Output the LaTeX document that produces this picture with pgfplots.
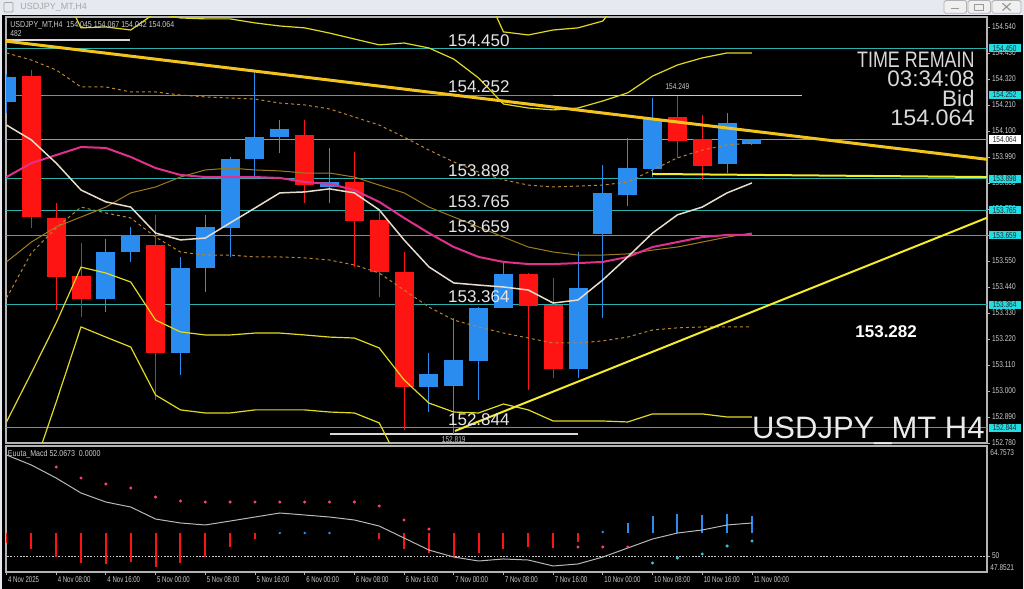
\documentclass[border=0pt]{standalone}
\usepackage{fontspec}
\setmainfont{Liberation Sans}
\usepackage{graphicx}
\usepackage{pgfplots}
\pgfplotsset{compat=1.18}

\definecolor{chrome}{HTML}{E6EAF0}
\definecolor{bull}{HTML}{2B8CF0}
\definecolor{bear}{HTML}{FF1414}
\definecolor{lvl}{HTML}{2BB0B0}
\definecolor{lvllight}{HTML}{8FE3E3}
\definecolor{gold}{HTML}{F2C31C}
\definecolor{yel}{HTML}{F4EC2A}
\definecolor{band}{HTML}{E0DA22}
\definecolor{pinkma}{HTML}{E0308E}
\definecolor{whitema}{HTML}{E8DCCB}
\definecolor{olivema}{HTML}{A07C1E}
\definecolor{dashc}{HTML}{B8862E}
\definecolor{axgray}{HTML}{B4B4B4}
\definecolor{txtgray}{HTML}{CCCCCC}
\definecolor{cyanbox}{HTML}{22DDE4}
\definecolor{macdline}{HTML}{B8B8B8}
\definecolor{pinkdot}{HTML}{FF4070}
\definecolor{cyandot}{HTML}{30C8D8}

\newcommand{\sm}[1]{\scalebox{0.78}[1]{#1}}
\newcommand{\tl}[1]{\scalebox{0.72}[1]{#1}}
\newcommand{\tk}{\fontsize{4.2}{5}\selectfont}

\begin{document}
\begin{tikzpicture}
% window frame
\fill[chrome] (0,0) rectangle (512pt,-294.5pt);
\fill[black] (1pt,-7.5pt) rectangle (511.5pt,-294.5pt);
\draw[gray!70, line width=0.4pt, rounded corners=0.5pt] (2pt,-1.2pt) rectangle (6.5pt,-6pt);
\node[anchor=west, inner sep=0, text=gray!70, font=\fontsize{4.5}{5}\selectfont] at (10pt,-3.6pt) {USDJPY\_MT,H4};
\foreach \a/\b in {472/483.2, 484/495.2, 496/510.5}{
  \draw[gray!60, fill=gray!12, rounded corners=0.8pt] (\a pt,-0.3pt) rectangle (\b pt,-6.6pt);}
\draw[gray!80, line width=0.6pt] (475.5pt,-4.4pt) -- (479.7pt,-4.4pt);
\draw[gray!80, line width=0.5pt] (487.4pt,-2pt) rectangle (491.8pt,-5pt);
\draw[gray!80, line width=0.6pt] (501.2pt,-1.6pt) -- (505.3pt,-5.3pt) (501.2pt,-5.3pt) -- (505.3pt,-1.6pt);

% ---------------- main price panel ----------------
\begin{axis}[
  at={(3pt,-8.5pt)}, anchor=north west,
  scale only axis, width=490.5pt, height=213pt,
  xmin=-0.02, xmax=39.46, ymin=152.780, ymax=154.582,
  axis background/.style={fill=black},
  axis line style={axgray, line width=0.6pt},
  clip mode=individual, unbounded coords=jump,
  scaled y ticks=false,
  xtick=\empty,
  ytick={152.78,152.89,153.00,153.11,153.22,153.33,153.44,153.55,153.66,153.77,153.88,153.99,154.10,154.21,154.32,154.43,154.54},
  ytick pos=right, yticklabel pos=right,
  tick align=outside, major tick length=1.5pt,
  tick style={axgray, line width=0.4pt},
  yticklabel style={font=\tk, text=txtgray, inner sep=0.8pt},
  yticklabel={\sm{\pgfmathprintnumber[fixed,fixed zerofill,precision=3,assume math mode=true]{\tick}}},
]
% horizontal levels
\addplot[lvl, line width=0.5pt] coordinates {(-1,154.450)(40,154.450)};
\addplot[lvl, line width=0.5pt] coordinates {(-1,154.252)(32.0,154.252)};
\addplot[lvllight, line width=0.5pt] coordinates {(22.0,154.252)(32.0,154.252)};
\addplot[gray!80, line width=0.5pt] coordinates {(-1,154.064)(40,154.064)};
\addplot[lvl, line width=0.5pt] coordinates {(-1,153.898)(40,153.898)};
\addplot[lvl, line width=0.5pt] coordinates {(-1,153.765)(40,153.765)};
\addplot[lvl, line width=0.5pt] coordinates {(-1,153.659)(40,153.659)};
\addplot[lvl, line width=0.5pt] coordinates {(-1,153.364)(40,153.364)};
\addplot[lvl, line width=0.5pt] coordinates {(-1,152.844)(40,152.844)};
\addplot[white!85!black, line width=0.8pt] coordinates {(0,154.485)(4.97,154.485)};
\addplot[white!85!black, line width=0.8pt] coordinates {(13.02,152.819)(23.0,152.819)};

% candle wicks
\addplot[bear, line width=0.5pt] coordinates {
(1,153.690)(1,154.358)(1,nan) (2,153.343)(2,153.795)(2,nan) (3,153.313)(3,153.626)(3,nan)
(6,152.962)(6,153.745)(6,nan) (12,153.795)(12,154.146)(12,nan) (14,153.525)(14,154.011)(14,nan)
(15,153.398)(15,153.757)(15,nan) (16,152.835)(16,153.588)(16,nan) (21,153.004)(21,153.499)(21,nan)
(22,153.055)(22,153.478)(22,nan) (27,153.986)(27,154.249)(27,nan) (28,153.893)(28,154.168)(28,nan)};
\addplot[bull, line width=0.5pt] coordinates {
(0,154.176)(0,154.341)(0,nan) (4,153.334)(4,153.643)(4,nan) (5,153.546)(5,153.694)(5,nan)
(7,153.068)(7,153.567)(7,nan) (8,153.419)(8,153.745)(8,nan) (9,153.567)(9,153.990)(9,nan)
(10,153.901)(10,154.358)(10,nan) (11,154.007)(11,154.146)(11,nan) (13,153.795)(13,154.028)(13,nan)
(17,152.911)(17,153.161)(17,nan) (18,152.819)(18,153.309)(18,nan) (19,152.962)(19,153.355)(19,nan)
(20,153.351)(20,153.541)(20,nan) (23,153.055)(23,153.588)(23,nan) (24,153.309)(24,153.956)(24,nan)
(25,153.783)(25,154.070)(25,nan) (26,153.905)(26,154.239)(26,nan) (29,153.922)(29,154.176)(29,nan)
(30,154.042)(30,154.067)(30,nan)};
% candle bodies (open -> close)
\addplot[bear, line width=9.5pt, line cap=butt] coordinates {
(1,154.332)(1,153.736)(1,nan) (2,153.732)(2,153.482)(2,nan) (3,153.486)(3,153.389)(3,nan)
(6,153.618)(6,153.161)(6,nan) (12,154.083)(12,153.871)(12,nan) (14,153.884)(14,153.719)(14,nan)
(15,153.723)(15,153.503)(15,nan) (16,153.503)(16,153.017)(16,nan) (21,153.495)(21,153.360)(21,nan)
(22,153.364)(22,153.093)(22,nan) (27,154.159)(27,154.058)(27,nan) (28,154.066)(28,153.952)(28,nan)};
\addplot[bull, line width=9.5pt, line cap=butt] coordinates {
(0,154.223)(0,154.328)(0,nan) (4,153.389)(4,153.588)(4,nan) (5,153.588)(5,153.660)(5,nan)
(7,153.161)(7,153.520)(7,nan) (8,153.520)(8,153.694)(8,nan) (9,153.690)(9,153.981)(9,nan)
(10,153.981)(10,154.074)(10,nan) (11,154.074)(11,154.108)(11,nan) (13,153.863)(13,153.884)(13,nan)
(17,153.017)(17,153.072)(17,nan) (18,153.021)(18,153.131)(18,nan) (19,153.127)(19,153.351)(19,nan)
(20,153.351)(20,153.495)(20,nan) (23,153.093)(23,153.436)(23,nan) (24,153.664)(24,153.838)(24,nan)
(25,153.829)(25,153.943)(25,nan) (26,153.939)(26,154.151)(26,nan) (29,153.960)(29,154.134)(29,nan)
(30,154.045)(30,154.064)(30,nan)};

% bands (dashed inner, yellow outer)
\addplot[dashc, line width=0.5pt, dash pattern=on 1.5pt off 1.5pt] coordinates {
(0,154.430)(1,154.400)(2,154.358)(3,154.286)(4,154.286)(5,154.265)(6,154.265)(7,154.252)(8,154.244)
(9,154.239)(10,154.235)(11,154.218)(12,154.210)(13,154.193)(14,154.159)(15,154.125)(16,154.074)
(17,154.019)(18,153.969)(19,153.926)(20,153.893)(21,153.871)(22,153.863)(23,153.867)(24,153.871)
(25,153.884)(26,153.935)(27,153.986)(28,154.019)(29,154.041)(30,154.049)};
\addplot[dashc, line width=0.5pt, dash pattern=on 1.5pt off 1.5pt] coordinates {
(0,153.393)(1,153.584)(2,153.690)(3,153.778)(4,153.753)(5,153.732)(6,153.651)(7,153.588)(8,153.575)
(9,153.575)(10,153.567)(11,153.567)(12,153.563)(13,153.554)(14,153.533)(15,153.499)(16,153.427)
(17,153.355)(18,153.300)(19,153.271)(20,153.245)(21,153.224)(22,153.203)(23,153.203)(24,153.212)
(25,153.228)(26,153.258)(27,153.267)(28,153.271)(29,153.271)(30,153.271)};
\addplot[band, line width=0.6pt] coordinates {
(0,155.000)(1,154.900)(2,154.750)(3,154.536)(4,154.540)(5,154.527)(6,154.600)(7,154.578)(8,154.574)
(9,154.574)(10,154.557)(11,154.544)(12,154.536)(13,154.514)(14,154.489)(15,154.464)(16,154.472)
(17,154.451)(18,154.404)(19,154.324)(20,154.214)(21,154.197)(22,154.189)(23,154.197)(24,154.227)
(25,154.261)(26,154.332)(27,154.379)(28,154.409)(29,154.430)(30,154.430)};
\addplot[band, line width=0.6pt] coordinates {
(18,154.850)(19,154.750)(20,154.519)(21,154.506)(22,154.527)(23,154.536)(24,154.565)(25,154.700)};
\addplot[band, line width=0.6pt] coordinates {
(0,152.869)(1,153.076)(2,153.288)(3,153.524)(4,153.499)(5,153.461)(6,153.300)(7,153.250)(8,153.237)
(9,153.237)(10,153.245)(11,153.245)(12,153.237)(13,153.228)(14,153.224)(15,153.182)(16,153.047)
(17,152.949)(18,152.911)(19,152.907)(20,152.945)(21,152.920)(22,152.873)(23,152.873)(24,152.873)
(25,152.869)(26,152.903)(27,152.903)(28,152.903)(29,152.890)(30,152.890)};
\addplot[band, line width=0.6pt] coordinates {
(0,152.400)(1,152.645)(2,152.953)(3,153.271)(4,153.228)(5,153.186)(6,152.983)(7,152.920)(8,152.907)
(9,152.907)(10,152.920)(11,152.920)(12,152.920)(13,152.911)(14,152.907)(15,152.865)(16,152.660)};

% moving averages
\addplot[olivema, line width=0.5pt] coordinates {
(0,153.546)(1,153.630)(2,153.694)(3,153.736)(4,153.778)(5,153.838)(6,153.863)(7,153.905)(8,153.935)
(9,153.943)(10,153.935)(11,153.931)(12,153.922)(13,153.922)(14,153.905)(15,153.871)(16,153.838)
(17,153.778)(18,153.736)(19,153.694)(20,153.651)(21,153.609)(22,153.588)(23,153.575)(24,153.575)
(25,153.580)(26,153.596)(27,153.609)(28,153.630)(29,153.651)(30,153.668)};
\addplot[pinkma, line width=1pt] coordinates {
(0,153.905)(1,153.964)(2,153.998)(3,154.032)(4,154.028)(5,153.990)(6,153.943)(7,153.914)(8,153.905)
(9,153.905)(10,153.905)(11,153.901)(12,153.884)(13,153.876)(14,153.850)(15,153.800)(16,153.732)
(17,153.668)(18,153.609)(19,153.567)(20,153.546)(21,153.537)(22,153.537)(23,153.541)(24,153.546)
(25,153.567)(26,153.609)(27,153.630)(28,153.651)(29,153.660)(30,153.660)};
\addplot[whitema, line width=0.75pt] coordinates {
(0,154.125)(1,154.062)(2,153.964)(3,153.850)(4,153.800)(5,153.778)(6,153.668)(7,153.639)(8,153.647)
(9,153.711)(10,153.774)(11,153.838)(12,153.842)(13,153.855)(14,153.838)(15,153.766)(16,153.639)
(17,153.525)(18,153.457)(19,153.448)(20,153.440)(21,153.427)(22,153.372)(23,153.385)(24,153.470)
(25,153.567)(26,153.668)(27,153.745)(28,153.778)(29,153.838)(30,153.880)};

% trend lines
\addplot[gold, line width=1.5pt] coordinates {(-0.02,154.480)(39.46,153.980)};
\addplot[yel, line width=1pt] coordinates {(25.98,153.918)(39.46,153.905)};
\addplot[yel, line width=1pt] coordinates {(18.05,152.831)(39.75,153.745)};

% anchors for the labels drawn on top
\coordinate (r1) at (axis cs:39.46,154.450);
\coordinate (r2) at (axis cs:39.46,154.252);
\coordinate (r3) at (axis cs:39.46,154.064);
\coordinate (r4) at (axis cs:39.46,153.898);
\coordinate (r5) at (axis cs:39.46,153.765);
\coordinate (r6) at (axis cs:39.46,153.659);
\coordinate (r7) at (axis cs:39.46,153.364);
\coordinate (r8) at (axis cs:39.46,152.844);
\coordinate (t1) at (axis cs:19.01,154.450);
\coordinate (t2) at (axis cs:19.01,154.252);
\coordinate (t3) at (axis cs:19.01,153.898);
\coordinate (t4) at (axis cs:19.01,153.765);
\coordinate (t5) at (axis cs:19.01,153.659);
\coordinate (t6) at (axis cs:19.01,153.364);
\coordinate (t7) at (axis cs:19.01,152.844);
\coordinate (hi) at (axis cs:27,154.249);
\coordinate (lo) at (axis cs:18,152.819);
\end{axis}

% ---------------- oscillator panel ----------------
\begin{axis}[
  at={(3pt,-223pt)}, anchor=north west,
  scale only axis, width=490.5pt, height=63pt,
  xmin=-0.02, xmax=39.46, ymin=47.8521, ymax=64.7573,
  axis background/.style={fill=black},
  axis line style={axgray, line width=0.6pt},
  clip mode=individual, unbounded coords=jump,
  xtick={0,2,...,30}, xtick pos=bottom,
  xticklabels={\tl{4 Nov 2025},\tl{4 Nov 08:00},\tl{4 Nov 16:00},\tl{5 Nov 00:00},\tl{5 Nov 08:00},\tl{5 Nov 16:00},\tl{6 Nov 00:00},\tl{6 Nov 08:00},\tl{6 Nov 16:00},\tl{7 Nov 00:00},\tl{7 Nov 08:00},\tl{7 Nov 16:00},\tl{10 Nov 00:00},\tl{10 Nov 08:00},\tl{10 Nov 16:00},\tl{11 Nov 00:00}},
  xticklabel style={font=\tk, text=txtgray, anchor=north west, inner sep=0.6pt},
  ytick={50}, ytick pos=right, yticklabel pos=right,
  yticklabel style={font=\tk, text=txtgray, inner sep=0.8pt},
  yticklabel={\sm{50}},
  tick align=outside, major tick length=1.5pt,
  tick style={axgray, line width=0.4pt},
]
\addplot[white!80!black, line width=0.4pt, dash pattern=on 0.8pt off 0.8pt] coordinates {(-1,50)(40,50)};
\addplot[bear, line width=1pt] coordinates {
(0,53.085)(0,51.74)(0,nan) (1,53.085)(1,50.94)(1,nan) (2,53.085)(2,49.86)(2,nan) (3,53.085)(3,49.06)(3,nan)
(4,53.085)(4,48.93)(4,nan) (5,53.085)(5,49.19)(5,nan) (6,53.085)(6,48.52)(6,nan) (7,53.085)(7,49.06)(7,nan)
(8,53.085)(8,49.86)(8,nan) (9,53.085)(9,51.21)(9,nan) (10,53.085)(10,52.28)(10,nan)
(15,53.085)(15,52.28)(15,nan) (16,53.085)(16,50.94)(16,nan) (17,53.085)(17,50.40)(17,nan)
(18,53.085)(18,49.86)(18,nan) (19,53.085)(19,50.40)(19,nan) (20,53.085)(20,50.94)(20,nan)
(21,53.085)(21,51.21)(21,nan) (22,53.085)(22,51.07)(22,nan) (23,53.085)(23,51.88)(23,nan)};
\addplot[bull, line width=1pt] coordinates {
(25,53.085)(25,54.43)(25,nan) (26,53.085)(26,55.37)(26,nan) (27,53.085)(27,55.63)(27,nan)
(28,53.085)(28,55.50)(28,nan) (29,53.085)(29,55.63)(29,nan) (30,53.085)(30,55.37)(30,nan)};
\addplot[macdline, line width=0.5pt] coordinates {
(0,63.55)(1,62.21)(2,60.46)(3,58.45)(4,57.24)(5,56.57)(6,54.96)(7,54.43)(8,54.16)(9,54.69)(10,55.23)
(11,55.77)(12,55.50)(13,55.23)(14,54.83)(15,54.02)(16,52.41)(17,50.80)(18,49.86)(19,49.33)(20,49.60)
(21,49.46)(22,48.66)(23,48.93)(24,49.86)(25,51.07)(26,52.28)(27,53.08)(28,53.49)(29,54.16)(30,54.43)};
\addplot[only marks, mark=*, mark size=0.55pt, pinkdot] coordinates {
(2,61.94)(3,60.46)(4,59.66)(5,59.12)(6,57.91)(7,57.38)(8,57.24)(9,57.24)(10,57.24)(11,57.24)(12,57.24)
(13,57.24)(14,57.24)(15,56.71)(16,54.83)(17,53.62)(23,51.21)(24,51.21)(25,51.21)};
\addplot[only marks, mark=*, mark size=0.55pt, cyandot] coordinates {
(26,49.06)(27,49.73)(28,50.27)(29,51.34)(30,52.01)};
\addplot[only marks, mark=*, mark size=0.4pt, bull] coordinates {
(11,53.08)(12,53.08)(13,53.08)(24,53.22)};
\end{axis}

% ---------------- texts on top ----------------
\tikzset{lv/.style={anchor=base, inner sep=0, text=white!90!black, font=\fontsize{8.5}{10}\selectfont}}
\node[lv] at ([yshift=1.1pt]t1) {154.450};
\node[lv] at ([yshift=1.1pt]t2) {154.252};
\node[lv] at ([yshift=1.1pt]t3) {153.898};
\node[lv] at ([yshift=1.1pt]t4) {153.765};
\node[lv] at ([yshift=1.1pt]t5) {153.659};
\node[lv] at ([yshift=1.1pt]t6) {153.364};
\node[lv] at ([yshift=1.1pt]t7) {152.844};
\tikzset{bx/.style={anchor=west, inner xsep=0.9pt, inner ysep=0.6pt, font=\tk, text=black!85, minimum width=16pt}}
\node[bx, fill=cyanbox] at ([xshift=0.6pt]r1) {\sm{154.450}};
\node[bx, fill=cyanbox] at ([xshift=0.6pt]r2) {\sm{154.252}};
\node[bx, fill=white]   at ([xshift=0.6pt]r3) {\sm{154.064}};
\node[bx, fill=cyanbox] at ([xshift=0.6pt]r4) {\sm{153.898}};
\node[bx, fill=cyanbox] at ([xshift=0.6pt]r5) {\sm{153.765}};
\node[bx, fill=cyanbox] at ([xshift=0.6pt]r6) {\sm{153.659}};
\node[bx, fill=cyanbox] at ([xshift=0.6pt]r7) {\sm{153.364}};
\node[bx, fill=cyanbox] at ([xshift=0.6pt]r8) {\sm{152.844}};

\node[anchor=south, inner sep=0.6pt, text=txtgray, font=\tk] at ([yshift=2.5pt]hi) {\sm{154.249}};
\node[anchor=north, inner sep=0.6pt, text=txtgray, font=\tk] at ([yshift=-0.6pt]lo) {\sm{152.819}};

\node[anchor=west, inner sep=0, text=txtgray, font=\fontsize{4.3}{5}\selectfont] at (5pt,-12.5pt)
  {\scalebox{0.82}[1]{USDJPY\_MT,H4\ \ 154.045 154.067 154.042 154.064}};
\node[anchor=west, inner sep=0, text=txtgray, font=\fontsize{4.3}{5}\selectfont] at (5pt,-17pt) {\sm{482}};
\node[anchor=west, inner sep=0, text=txtgray, font=\fontsize{4.3}{5}\selectfont] at (3.8pt,-227pt)
  {\scalebox{0.82}[1]{Euuta\_Macd 52.0673\ \ 0.0000}};
\node[anchor=west, inner sep=0, text=txtgray, font=\tk] at (495pt,-226.5pt) {\sm{64.7573}};
\node[anchor=west, inner sep=0, text=txtgray, font=\tk] at (495pt,-283.8pt) {\sm{47.8521}};

\tikzset{big/.style={anchor=base east, inner sep=0, text=white!85!black, font=\fontsize{11.2}{13}\selectfont}}
\node[big] at (487.5pt,-34pt) {\scalebox{0.8}[1]{TIME REMAIN}};
\node[big] at (487.5pt,-43.2pt) {03:34:08};
\node[big] at (487.5pt,-53.2pt) {Bid};
\node[big] at (487.5pt,-62.8pt) {\scalebox{1.04}[1]{154.064}};
\node[anchor=base west, inner sep=0, text=white, font=\bfseries\fontsize{8.5}{10}\selectfont] at (427.5pt,-168.5pt) {153.282};
\node[anchor=base east, inner sep=0, text=white!92!black, font=\fontsize{15.5}{18}\selectfont] at (492.5pt,-219pt) {USDJPY\_MT H4};
\end{tikzpicture}
\end{document}
